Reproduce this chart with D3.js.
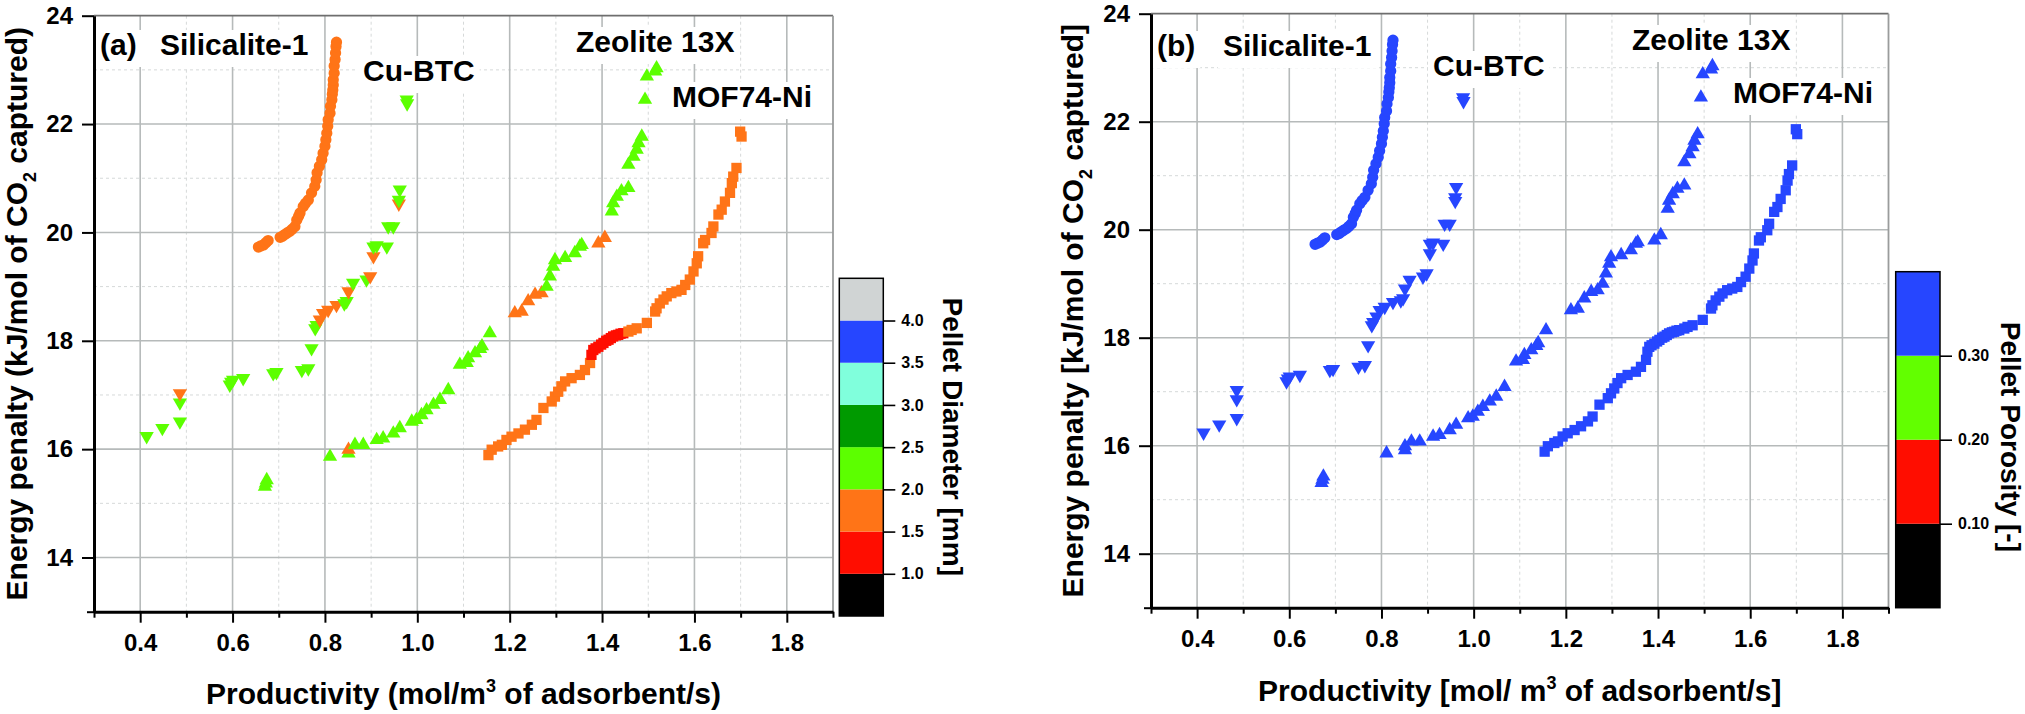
<!DOCTYPE html>
<html>
<head>
<meta charset="utf-8">
<script src="https://cdn.jsdelivr.net/npm/d3@7"></script>
<style>
  body { margin: 0; background: #fff; }
  text { font-family: "Liberation Sans", Arial, sans-serif; font-weight: bold; fill: #000; }
</style>
</head>
<body>
<svg id="chart" width="2025" height="714"></svg>
<script>
/*********************************************
** Energy penalty vs productivity, two panels
** (a) coloured by pellet diameter
** (b) coloured by pellet porosity
**********************************************/

// axis ticks
var xMajor = [0.4, 0.6, 0.8, 1.0, 1.2, 1.4, 1.6, 1.8];
var xMinor = [0.3, 0.5, 0.7, 0.9, 1.1, 1.3, 1.5, 1.7, 1.9];
var yMajor = [14, 16, 18, 20, 22, 24];
var yMinor = [15, 17, 19, 21, 23];

// colour bar stops
var diameterBounds = [0.5, 1.0, 1.5, 2.0, 2.5, 3.0, 3.5, 4.0, 4.5];
var diameterTicks = [1.0, 1.5, 2.0, 2.5, 3.0, 3.5, 4.0];
var porosityBounds = [0.0, 0.10, 0.20, 0.30, 0.40];
var porosityTicks = [0.10, 0.20, 0.30];

var materials = ["Silicalite-1", "Cu-BTC", "Zeolite 13X", "MOF74-Ni"];
// every design shown in (b) falls in the top porosity band
var porosity = [0.35, 0.35, 0.35, 0.35];

// [productivity, energy penalty, pellet diameter]
var silicalite = [
  [0.656, 19.73, 1.75], [0.661, 19.75, 1.75], [0.667, 19.77, 1.75], [0.672, 19.81, 1.75],
  [0.677, 19.85, 1.75], [0.703, 19.91, 1.75], [0.708, 19.93, 1.75], [0.713, 19.96, 1.75],
  [0.718, 19.99, 1.75], [0.724, 20.02, 1.75], [0.729, 20.06, 1.75], [0.735, 20.11, 1.75],
  [0.739, 20.23, 1.75], [0.743, 20.30, 1.75], [0.746, 20.36, 1.75], [0.753, 20.48, 1.75],
  [0.758, 20.54, 1.75], [0.764, 20.60, 1.75], [0.771, 20.73, 1.75], [0.778, 20.85, 1.75],
  [0.781, 20.97, 1.75], [0.783, 21.10, 1.75], [0.788, 21.22, 1.75], [0.793, 21.34, 1.75],
  [0.796, 21.46, 1.75], [0.800, 21.59, 1.75], [0.802, 21.71, 1.75], [0.804, 21.83, 1.75],
  [0.806, 21.96, 1.75], [0.807, 22.08, 1.75], [0.811, 22.20, 1.75], [0.812, 22.33, 1.75],
  [0.815, 22.45, 1.75], [0.816, 22.55, 1.75], [0.817, 22.63, 1.75], [0.818, 22.72, 1.75],
  [0.818, 22.82, 1.75], [0.820, 22.94, 1.75], [0.820, 23.07, 1.75], [0.822, 23.19, 1.75],
  [0.823, 23.31, 1.75], [0.824, 23.43, 1.75], [0.825, 23.51, 1.75]
];

var cuBTC = [
  [0.414, 16.24, 2.25], [0.448, 16.39, 2.25], [0.486, 16.51, 2.25], [0.486, 16.86, 2.25],
  [0.486, 17.03, 1.75], [0.594, 17.19, 2.25], [0.597, 17.24, 2.25], [0.601, 17.28, 2.25],
  [0.623, 17.31, 2.25], [0.688, 17.40, 2.25], [0.695, 17.42, 2.25], [0.750, 17.46, 2.25],
  [0.764, 17.49, 2.25], [0.771, 17.86, 2.25], [0.779, 18.23, 2.25], [0.782, 18.29, 2.25],
  [0.789, 18.39, 1.75], [0.796, 18.51, 1.75], [0.807, 18.57, 1.75], [0.825, 18.66, 1.75],
  [0.842, 18.69, 2.25], [0.847, 18.73, 2.25], [0.851, 18.91, 1.75], [0.861, 19.07, 2.25],
  [0.890, 19.13, 2.25], [0.898, 19.19, 1.75], [0.905, 19.56, 1.75], [0.905, 19.74, 2.25],
  [0.912, 19.76, 2.25], [0.934, 19.74, 2.25], [0.937, 20.11, 2.25], [0.948, 20.11, 2.25],
  [0.960, 20.53, 1.75], [0.960, 20.60, 2.25], [0.962, 20.79, 2.25], [0.978, 22.38, 2.25],
  [0.977, 22.45, 2.25]
];

var zeolite13X = [
  [0.670, 15.31, 2.25], [0.672, 15.37, 2.25], [0.674, 15.43, 2.25], [0.811, 15.86, 2.25],
  [0.851, 15.92, 2.25], [0.851, 15.99, 1.75], [0.865, 16.08, 2.25], [0.883, 16.08, 2.25],
  [0.912, 16.17, 2.25], [0.926, 16.20, 2.25], [0.948, 16.29, 2.25], [0.962, 16.39, 2.25],
  [0.988, 16.51, 2.25], [0.998, 16.54, 2.25], [1.009, 16.63, 2.25], [1.020, 16.72, 2.25],
  [1.035, 16.82, 2.25], [1.049, 16.91, 2.25], [1.067, 17.09, 2.25], [1.092, 17.56, 2.25],
  [1.107, 17.59, 2.25], [1.110, 17.68, 2.25], [1.125, 17.77, 2.25], [1.136, 17.85, 2.25],
  [1.140, 17.90, 2.25], [1.157, 18.14, 2.25], [1.211, 18.51, 1.75], [1.226, 18.54, 1.75],
  [1.240, 18.73, 1.75], [1.255, 18.85, 1.75], [1.269, 18.88, 1.75], [1.280, 19.00, 2.25],
  [1.287, 19.19, 2.25], [1.294, 19.37, 2.25], [1.298, 19.49, 2.25], [1.320, 19.53, 2.25],
  [1.341, 19.62, 2.25], [1.352, 19.74, 2.25], [1.356, 19.77, 2.25], [1.392, 19.80, 1.75],
  [1.406, 19.90, 1.75], [1.421, 20.39, 2.25], [1.424, 20.54, 2.25], [1.432, 20.66, 2.25],
  [1.442, 20.76, 2.25], [1.457, 20.82, 2.25], [1.457, 21.25, 2.25], [1.468, 21.40, 2.25],
  [1.475, 21.53, 2.25], [1.479, 21.65, 2.25], [1.486, 21.77, 2.25], [1.493, 22.45, 2.25],
  [1.497, 22.88, 2.25], [1.515, 22.97, 2.25], [1.518, 23.03, 2.25]
];

var mof74Ni = [
  [1.154, 15.89, 1.75], [1.161, 15.99, 1.75], [1.175, 16.05, 1.75], [1.183, 16.08, 1.75],
  [1.193, 16.17, 1.75], [1.204, 16.23, 1.75], [1.219, 16.29, 1.75], [1.233, 16.36, 1.75],
  [1.248, 16.45, 1.75], [1.258, 16.54, 1.75], [1.273, 16.76, 1.75], [1.291, 16.88, 1.75],
  [1.298, 16.97, 1.75], [1.305, 17.06, 1.75], [1.312, 17.16, 1.75], [1.320, 17.25, 1.75],
  [1.334, 17.31, 1.75], [1.352, 17.37, 1.75], [1.363, 17.46, 1.75], [1.374, 17.59, 1.75],
  [1.377, 17.74, 1.25], [1.381, 17.83, 1.25], [1.386, 17.86, 1.25], [1.392, 17.89, 1.25],
  [1.398, 17.93, 1.25], [1.403, 17.96, 1.25], [1.409, 18.00, 1.25], [1.414, 18.02, 1.25],
  [1.419, 18.05, 1.25], [1.424, 18.08, 1.25], [1.430, 18.10, 1.25], [1.435, 18.11, 1.25],
  [1.440, 18.13, 1.25], [1.446, 18.14, 1.25], [1.457, 18.17, 1.75], [1.464, 18.20, 1.75],
  [1.475, 18.23, 1.75], [1.497, 18.33, 1.75], [1.515, 18.54, 1.75], [1.518, 18.60, 1.75],
  [1.525, 18.69, 1.75], [1.533, 18.76, 1.75], [1.540, 18.82, 1.75], [1.550, 18.88, 1.75],
  [1.561, 18.91, 1.75], [1.572, 18.94, 1.75], [1.580, 19.03, 1.75], [1.590, 19.13, 1.75],
  [1.598, 19.28, 1.75], [1.605, 19.43, 1.75], [1.608, 19.56, 1.75], [1.619, 19.80, 1.75],
  [1.623, 19.86, 1.75], [1.637, 19.99, 1.75], [1.641, 20.11, 1.75], [1.652, 20.33, 1.75],
  [1.659, 20.42, 1.75], [1.666, 20.57, 1.75], [1.677, 20.73, 1.75], [1.681, 20.91, 1.75],
  [1.684, 21.03, 1.75], [1.691, 21.19, 1.75], [1.699, 21.86, 1.75], [1.702, 21.77, 1.75]
];

var series = [silicalite, cuBTC, zeolite13X, mof74Ni];

var diameterColor = d3.scaleThreshold()
  .domain(diameterTicks)
  .range(["#000000", "#ff0d00", "#ff7417", "#5cff00", "#009a00",
          "#80ffdc", "#2646ff", "#d0d4d4"]);

var porosityColor = d3.scaleThreshold()
  .domain(porosityTicks)
  .range(["#000000", "#ff0d00", "#62ff00", "#2646ff"]);

// marker shape per material: circle, down triangle, up triangle, square
var shapes = [
  {type: d3.symbolCircle, size: 100, rot: 0},
  {type: d3.symbolTriangle, size: 88, rot: 180},
  {type: d3.symbolTriangle, size: 88, rot: 0},
  {type: d3.symbolSquare, size: 106, rot: 0}
];

var svg = d3.select("#chart");

/**
* drawPanel
* [grid, axes, markers and labels of one panel]
**/
function drawPanel(svg, p) {
  var x = d3.scaleLinear().domain([0.3, 1.9]).range([p.left, p.right]);
  var y = d3.scaleLinear().domain([13, 24]).range([p.bottom, p.top]);
  var g = svg.append("g");

  // dashed minor grid
  g.selectAll(".gxm").data(xMinor.slice(1, -1)).enter().append("line")
    .attr("x1", function(d) { return x(d); }).attr("x2", function(d) { return x(d); })
    .attr("y1", p.top).attr("y2", p.bottom)
    .attr("stroke", "#d6d9d9").attr("stroke-width", 1).attr("stroke-dasharray", "3,3");
  g.selectAll(".gym").data(yMinor).enter().append("line")
    .attr("y1", function(d) { return y(d); }).attr("y2", function(d) { return y(d); })
    .attr("x1", p.left).attr("x2", p.right)
    .attr("stroke", "#d6d9d9").attr("stroke-width", 1).attr("stroke-dasharray", "3,3");

  // solid major grid
  g.selectAll(".gx").data(xMajor).enter().append("line")
    .attr("x1", function(d) { return x(d); }).attr("x2", function(d) { return x(d); })
    .attr("y1", p.top).attr("y2", p.bottom)
    .attr("stroke", "#b6baba").attr("stroke-width", 1.6);
  g.selectAll(".gy").data(yMajor.slice(0, -1)).enter().append("line")
    .attr("y1", function(d) { return y(d); }).attr("y2", function(d) { return y(d); })
    .attr("x1", p.left).attr("x2", p.right)
    .attr("stroke", "#b6baba").attr("stroke-width", 1.6);

  // top and right frame
  g.append("line").attr("x1", p.left).attr("x2", p.right)
    .attr("y1", y(24)).attr("y2", y(24))
    .attr("stroke", "#6e6e6e").attr("stroke-width", 1.8);
  g.append("line").attr("x1", x(1.9)).attr("x2", x(1.9))
    .attr("y1", p.top).attr("y2", p.bottom)
    .attr("stroke", "#9a9c9c").attr("stroke-width", 1.8);

  // labels with white boxes, drawn before markers
  p.labels.forEach(function(l) {
    var lg = g.append("g");
    var rect = lg.append("rect").attr("fill", "#fff");
    var t = lg.append("text").attr("x", l.x).attr("y", l.y)
      .attr("font-size", 30).text(l.text);
    var b = t.node().getBBox();
    rect.attr("x", b.x - 5).attr("y", b.y + 2)
      .attr("width", b.width + 10).attr("height", b.height + 4);
  });

  // markers
  series.forEach(function(s, i) {
    var sym = d3.symbol().type(shapes[i].type).size(shapes[i].size);
    g.selectAll(".m" + i).data(s).enter().append("path")
      .attr("d", sym)
      .attr("transform", function(d) {
        return "translate(" + x(d[0]) + "," + y(d[1]) + ") rotate(" + shapes[i].rot + ")";
      })
      .attr("fill", function(d) { return p.color(d, i); });
  });

  // bottom axis
  var xAxis = g.append("g").attr("transform", "translate(0," + p.bottom + ")")
    .call(d3.axisBottom(x).tickValues(xMajor).tickSize(11).tickSizeOuter(0)
      .tickPadding(11).tickFormat(d3.format(".1f")));
  g.append("g").attr("transform", "translate(0," + p.bottom + ")")
    .call(d3.axisBottom(x).tickValues(xMinor).tickSize(6).tickSizeOuter(0).tickFormat(""))
    .select(".domain").remove();

  // left axis
  var yAxis = g.append("g").attr("transform", "translate(" + p.left + ",0)")
    .call(d3.axisLeft(y).tickValues(yMajor).tickSize(12).tickSizeOuter(0)
      .tickPadding(9).tickFormat(d3.format("d")));
  g.append("g").attr("transform", "translate(" + p.left + ",0)")
    .call(d3.axisLeft(y).tickValues([13]).tickSize(7).tickSizeOuter(0).tickFormat(""))
    .select(".domain").remove();

  g.selectAll(".domain").attr("stroke", "#000").attr("stroke-width", 3);
  g.selectAll(".tick line").attr("stroke", "#000").attr("stroke-width", 2);
  xAxis.selectAll("text").attr("font-size", 24).attr("font-family", null);
  yAxis.selectAll("text").attr("font-size", 24).attr("font-family", null);

  // axis titles
  var xt = g.append("text").attr("x", (p.left + p.right) / 2).attr("y", p.xTitleY)
    .attr("text-anchor", "middle").attr("font-size", 30);
  xt.append("tspan").text(p.xTitle[0]);
  xt.append("tspan").attr("font-size", 18).attr("dy", -12).text("3");
  xt.append("tspan").attr("dy", 12).text(p.xTitle[1]);

  var yt = g.append("text")
    .attr("transform", "translate(" + p.yTitleX + "," + (p.top + p.bottom) / 2 + ") rotate(-90)")
    .attr("text-anchor", "middle").attr("font-size", 30);
  yt.append("tspan").text(p.yTitle[0]);
  yt.append("tspan").attr("font-size", 18).attr("dy", 9).text("2");
  yt.append("tspan").attr("dy", -9).text(p.yTitle[1]);
}

/**
* drawColorbar
* [stacked colour bands with ticks and a rotated title]
**/
function drawColorbar(svg, c) {
  var s = d3.scaleLinear().domain(d3.extent(c.bounds)).range([c.bottom, c.top]);
  var g = svg.append("g");
  g.selectAll("rect.band").data(d3.pairs(c.bounds)).enter().append("rect")
    .attr("class", "band")
    .attr("x", c.x0).attr("width", c.x1 - c.x0)
    .attr("y", function(d) { return s(d[1]); })
    .attr("height", function(d) { return s(d[0]) - s(d[1]); })
    .attr("fill", function(d) { return c.color((d[0] + d[1]) / 2); });
  g.append("rect").attr("x", c.x0).attr("y", c.top)
    .attr("width", c.x1 - c.x0).attr("height", c.bottom - c.top)
    .attr("fill", "none").attr("stroke", "#000").attr("stroke-width", 1.5);

  var ax = g.append("g").attr("transform", "translate(" + c.x1 + ",0)")
    .call(d3.axisRight(s).tickValues(c.ticks).tickSize(12).tickSizeOuter(0)
      .tickPadding(6).tickFormat(d3.format(c.format)));
  ax.select(".domain").remove();
  ax.selectAll(".tick line").attr("stroke", "#000").attr("stroke-width", 1.6);
  ax.selectAll("text").attr("font-size", 16).attr("font-family", null);

  g.append("text")
    .attr("transform", "translate(" + c.titleX + "," + c.titleEnd + ") rotate(90)")
    .attr("text-anchor", "end").attr("font-size", 28).text(c.title);
}

drawPanel(svg, {
  left: 94, right: 833, top: 15.7, bottom: 611.7,
  xTitleY: 704, yTitleX: 27,
  xTitle: ["Productivity (mol/m", " of adsorbent/s)"],
  yTitle: ["Energy penalty (kJ/mol of CO", " captured)"],
  color: function(d) { return diameterColor(d[2]); },
  labels: [
    {text: "(a)", x: 100, y: 55},
    {text: materials[0], x: 160, y: 55},
    {text: materials[1], x: 363, y: 81},
    {text: materials[2], x: 576, y: 52},
    {text: materials[3], x: 672, y: 107}
  ]
});

drawPanel(svg, {
  left: 1151, right: 1888.5, top: 13.7, bottom: 607.7,
  xTitleY: 701, yTitleX: 1083,
  xTitle: ["Productivity [mol/ m", " of adsorbent/s]"],
  yTitle: ["Energy penalty [kJ/mol of CO", " captured]"],
  color: function(d, i) { return porosityColor(porosity[i]); },
  labels: [
    {text: "(b)", x: 1157, y: 56},
    {text: materials[0], x: 1223, y: 56},
    {text: materials[1], x: 1433, y: 76},
    {text: materials[2], x: 1632, y: 50},
    {text: materials[3], x: 1733, y: 103}
  ]
});

drawColorbar(svg, {
  x0: 839.3, x1: 883.3, top: 278.3, bottom: 616,
  bounds: diameterBounds, ticks: diameterTicks, format: ".1f",
  color: diameterColor,
  title: "Pellet Diameter [mm]", titleX: 943, titleEnd: 576
});

drawColorbar(svg, {
  x0: 1895.7, x1: 1940, top: 271.7, bottom: 607.7,
  bounds: porosityBounds, ticks: porosityTicks, format: ".2f",
  color: porosityColor,
  title: "Pellet Porosity [-]", titleX: 2001, titleEnd: 552
});
</script>
</body>
</html>
